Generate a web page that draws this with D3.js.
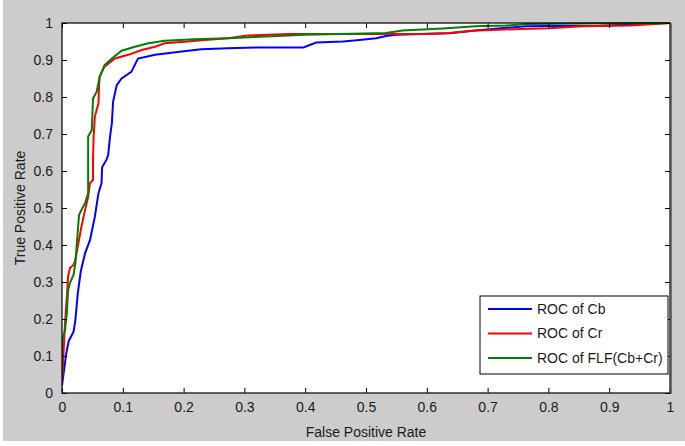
<!DOCTYPE html>
<html>
<head>
<meta charset="utf-8">
<script src="https://cdn.jsdelivr.net/npm/d3@7"></script>
<style>
  body { margin: 0; background: #fff; }
  text { font-family: "Liberation Sans", Arial, sans-serif; fill: #1a1a1a; }
</style>
</head>
<body>
<svg width="685" height="446"></svg>
<script>
// ROC points
const cbFpr = [0, 0.007, 0.011, 0.019, 0.022, 0.026, 0.031, 0.038, 0.046, 0.054, 0.06, 0.065, 0.066, 0.073, 0.076, 0.079, 0.082, 0.084, 0.09, 0.098, 0.114, 0.125, 0.153, 0.197, 0.229, 0.273, 0.317, 0.397, 0.418, 0.462, 0.489, 0.517, 0.533, 0.55, 0.593, 0.637, 0.68, 0.73, 0.763, 0.801, 0.878, 0.95, 1.0];
const cbTpr = [0.02, 0.107, 0.14, 0.166, 0.197, 0.27, 0.33, 0.378, 0.413, 0.476, 0.54, 0.567, 0.61, 0.63, 0.643, 0.693, 0.729, 0.787, 0.832, 0.85, 0.868, 0.904, 0.914, 0.923, 0.929, 0.932, 0.934, 0.934, 0.947, 0.95, 0.954, 0.959, 0.965, 0.968, 0.97, 0.972, 0.98, 0.987, 0.991, 0.992, 0.992, 0.997, 1.0];

const crFpr = [0, 0.002, 0.005, 0.008, 0.01, 0.013, 0.019, 0.022, 0.027, 0.032, 0.038, 0.043, 0.046, 0.051, 0.051, 0.052, 0.054, 0.06, 0.061, 0.062, 0.07, 0.087, 0.109, 0.131, 0.153, 0.169, 0.207, 0.235, 0.273, 0.305, 0.374, 0.533, 0.593, 0.637, 0.68, 0.708, 0.755, 0.801, 0.856, 0.935, 1.0];
const crTpr = [0.027, 0.089, 0.19, 0.26, 0.314, 0.338, 0.346, 0.36, 0.405, 0.45, 0.495, 0.53, 0.567, 0.576, 0.63, 0.693, 0.747, 0.783, 0.832, 0.855, 0.882, 0.904, 0.914, 0.927, 0.936, 0.945, 0.95, 0.954, 0.959, 0.966, 0.97, 0.97, 0.97, 0.973, 0.98, 0.981, 0.984, 0.986, 0.991, 0.993, 1.0];

const flfFpr = [0, 0, 0.005, 0.008, 0.01, 0.013, 0.019, 0.022, 0.024, 0.028, 0.032, 0.038, 0.043, 0.043, 0.049, 0.051, 0.057, 0.062, 0.07, 0.082, 0.098, 0.12, 0.142, 0.169, 0.218, 0.273, 0.317, 0.399, 0.533, 0.56, 0.626, 0.68, 0.73, 0.763, 0.97, 1.0];
const flfTpr = [0.054, 0.14, 0.17, 0.216, 0.278, 0.297, 0.319, 0.351, 0.395, 0.481, 0.495, 0.513, 0.54, 0.693, 0.711, 0.796, 0.814, 0.855, 0.886, 0.904, 0.925, 0.936, 0.945, 0.952, 0.956, 0.959, 0.962, 0.968, 0.973, 0.98, 0.985, 0.991, 0.993, 0.997, 1.0, 1.0];

const seriesNames = ["ROC of Cb", "ROC of Cr", "ROC of FLF(Cb+Cr)"];
const colors = ["#0000ff", "#ff0000", "#008000"];
const xTicks = [0, 0.1, 0.2, 0.3, 0.4, 0.5, 0.6, 0.7, 0.8, 0.9, 1];
const yTicks = [0, 0.1, 0.2, 0.3, 0.4, 0.5, 0.6, 0.7, 0.8, 0.9, 1];

const svg = d3.select("svg");
const pLeft = 62, pRight = 670, pTop = 23, pBottom = 393;

// figure background (grey, like a matlab window)
svg.append("rect")
    .attr("x", 3).attr("y", 0)
    .attr("width", 682).attr("height", 441)
    .attr("fill", "#cccccc");

svg.append("rect")
    .attr("x", pLeft).attr("y", pTop)
    .attr("width", pRight - pLeft).attr("height", pBottom - pTop)
    .attr("fill", "#fff");

const x = d3.scaleLinear().domain([0, 1]).range([pLeft, pRight]);
const y = d3.scaleLinear().domain([0, 1]).range([pBottom, pTop]);

svg.append("clipPath").attr("id", "plot")
    .append("rect")
    .attr("x", pLeft).attr("y", pTop - 1)
    .attr("width", pRight - pLeft).attr("height", pBottom - pTop + 1);

const series = [
    cbFpr.map((f, i) => [f, cbTpr[i]]),
    crFpr.map((f, i) => [f, crTpr[i]]),
    flfFpr.map((f, i) => [f, flfTpr[i]])
];

const line = d3.line()
    .x(function(d) { return x(d[0]); })
    .y(function(d) { return y(d[1]); });

svg.append("g")
    .attr("clip-path", "url(#plot)")
    .selectAll("path")
    .data(series)
    .enter().append("path")
    .attr("d", line)
    .attr("fill", "none")
    .attr("stroke", function(d, i) { return colors[i]; })
    .attr("stroke-width", 2)
    .attr("stroke-linejoin", "miter");

// axes: inward ticks on all four sides
function styleAxis(g) {
    g.select(".domain").remove();
    g.selectAll(".tick line").attr("stroke", "#000");
    g.selectAll(".tick text")
        .attr("font-size", "14px")
        .attr("fill", "#1a1a1a");
}

svg.append("g")
    .attr("transform", "translate(0," + pBottom + ")")
    .call(d3.axisBottom(x).tickValues(xTicks).tickSize(-5).tickPadding(9).tickFormat(d3.format("~g")))
    .call(styleAxis);

svg.append("g")
    .attr("transform", "translate(" + pLeft + ",0)")
    .call(d3.axisLeft(y).tickValues(yTicks).tickSize(-5).tickPadding(9).tickFormat(d3.format("~g")))
    .call(styleAxis);

svg.append("g")
    .attr("transform", "translate(0," + pTop + ")")
    .call(d3.axisTop(x).tickValues(xTicks).tickSize(-5).tickFormat(""))
    .call(styleAxis);

svg.append("g")
    .attr("transform", "translate(" + pRight + ",0)")
    .call(d3.axisRight(y).tickValues(yTicks).tickSize(-5).tickFormat(""))
    .call(styleAxis);

// box
svg.append("rect")
    .attr("x", pLeft).attr("y", pTop)
    .attr("width", pRight - pLeft).attr("height", pBottom - pTop)
    .attr("fill", "none")
    .attr("stroke", "#000")
    .attr("stroke-width", 1.2);
svg.append("line")
    .attr("x1", pRight + 1).attr("x2", pRight + 1)
    .attr("y1", pTop).attr("y2", pBottom + 1)
    .attr("stroke", "#555").attr("stroke-width", 1.5);

// axis titles
svg.append("text")
    .attr("x", (pLeft + pRight) / 2).attr("y", 437)
    .attr("text-anchor", "middle")
    .attr("font-size", "14px")
    .text("False Positive Rate");

svg.append("text")
    .attr("transform", "translate(25," + ((pTop + pBottom) / 2) + ") rotate(-90)")
    .attr("text-anchor", "middle")
    .attr("font-size", "14px")
    .text("True Positive Rate");

// legend
const legend = svg.append("g").attr("transform", "translate(480,296)");
legend.append("rect")
    .attr("width", 188).attr("height", 78)
    .attr("fill", "#fff")
    .attr("stroke", "#000");

const rows = legend.selectAll("g")
    .data(seriesNames)
    .enter().append("g")
    .attr("transform", function(d, i) { return "translate(0," + (13 + i * 24.5) + ")"; });

rows.append("line")
    .attr("x1", 8).attr("x2", 52)
    .attr("stroke", function(d, i) { return colors[i]; })
    .attr("stroke-width", 2);

rows.append("text")
    .attr("x", 57).attr("dy", "0.35em")
    .attr("font-size", "14px")
    .text(function(d) { return d; });
</script>
</body>
</html>
